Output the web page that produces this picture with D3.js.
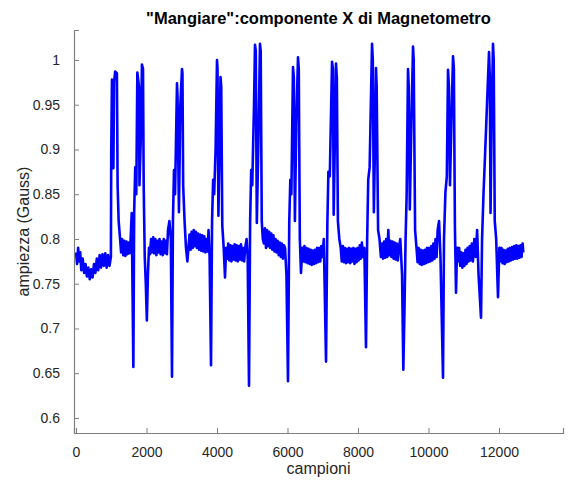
<!DOCTYPE html>
<html>
<head>
<meta charset="utf-8">
<script src="https://cdn.jsdelivr.net/npm/d3@7"></script>
<style>
  body { margin: 0; background: #fff; }
  text { font-family: "Liberation Sans", Arial, sans-serif; }
</style>
</head>
<body>
<div id="chart"></div>
<script>
// Data (sample index, amplitude in Gauss)
var campioni = [
  0, 30, 60, 90, 120, 150, 190, 230, 270, 310, 350, 390, 430, 470, 510, 550, 590, 630, 670, 710, 750, 790, 830, 870, 910, 950, 990,
  1000, 1020, 1040, 1060, 1080, 1110, 1140, 1160, 1180, 1210, 1250,
  1280, 1310, 1340, 1370, 1400, 1430, 1460, 1490, 1520, 1550, 1580,
  1627, 1650, 1680, 1710, 1740, 1787, 1800, 1844, 1870, 1901, 1920, 1950, 1980, 2010, 2040, 2070,
  2100, 2130, 2160, 2190, 2220, 2250, 2280, 2310, 2340, 2370, 2400, 2430, 2460, 2490, 2520, 2550, 2580, 2610, 2650, 2690,
  2723, 2750, 2780, 2810, 2865, 2880, 2920, 2960, 3007, 3020, 3040, 3080, 3120, 3160,
  3190, 3220, 3250, 3280, 3310, 3340, 3370, 3400, 3430, 3460, 3490, 3520, 3550, 3580, 3610, 3640, 3670, 3700, 3730, 3760, 3790,
  3830, 3860, 3890, 3920, 3960, 4000, 4015, 4040, 4070, 4100, 4120, 4150, 4190, 4227, 4260,
  4290, 4320, 4350, 4380, 4410, 4440, 4470, 4500, 4530, 4560, 4590, 4620, 4650, 4680, 4710, 4740, 4770, 4800, 4840, 4870,
  4908, 4940, 4970, 5000, 5050, 5078, 5100, 5130, 5170, 5220, 5240, 5270, 5300,
  5330, 5360, 5390, 5420, 5450, 5480, 5510, 5540, 5570, 5600, 5630, 5660, 5690, 5720, 5750, 5780, 5810, 5840, 5870, 5900, 5930, 5970,
  6014, 6050, 6080, 6110, 6156, 6180, 6210, 6250, 6298, 6320, 6350, 6383, 6420,
  6450, 6480, 6510, 6540, 6570, 6600, 6630, 6660, 6690, 6720, 6750, 6780, 6810, 6840, 6870, 6900, 6930, 6960, 6990, 7030,
  7093, 7130, 7160, 7200, 7263, 7290, 7310, 7340, 7376, 7400, 7430, 7470, 7510,
  7540, 7570, 7600, 7630, 7660, 7690, 7720, 7750, 7780, 7810, 7840, 7870, 7900, 7930, 7960, 7990, 8020, 8050, 8080, 8110, 8140, 8180,
  8227, 8260, 8290, 8330, 8398, 8420, 8450, 8480, 8511, 8530, 8570, 8610, 8650,
  8680, 8710, 8740, 8770, 8800, 8830, 8860, 8890, 8920, 8950, 8980, 9010, 9040, 9070, 9100, 9130, 9160, 9200, 9250,
  9286, 9320, 9350, 9380, 9419, 9440, 9470, 9510, 9561, 9580, 9620, 9660,
  9690, 9720, 9750, 9780, 9810, 9840, 9870, 9900, 9930, 9960, 9990, 10020, 10050, 10080, 10110, 10140, 10170, 10200, 10230, 10260, 10300, 10340,
  10412, 10440, 10480, 10520, 10554, 10580, 10610, 10650, 10696, 10720, 10750, 10781, 10810,
  10840, 10870, 10900, 10930, 10960, 10990, 11020, 11050, 11080, 11110, 11140, 11170, 11200, 11230, 11260, 11300, 11340, 11380, 11420,
  11490, 11520, 11560, 11603, 11640, 11717, 11740, 11760, 11790, 11830, 11850, 11880, 11920, 11972, 12010,
  12040, 12070, 12100, 12130, 12160, 12190, 12220, 12250, 12280, 12310, 12340, 12370, 12400, 12430, 12460, 12490, 12520, 12550, 12580, 12610, 12640, 12670, 12690
];

var ampiezza = [
  0.785, 0.772, 0.79, 0.775, 0.785, 0.765, 0.778, 0.762, 0.772, 0.758, 0.768, 0.755, 0.766, 0.757, 0.772, 0.762, 0.778, 0.765, 0.782, 0.768, 0.783, 0.77, 0.784, 0.768, 0.782, 0.77, 0.78,
  0.90, 0.978, 0.975, 0.879, 0.975, 0.987, 0.986, 0.985, 0.86, 0.82, 0.80,
  0.785, 0.80, 0.782, 0.798, 0.781, 0.797, 0.783, 0.796, 0.784, 0.80, 0.829,
  0.657, 0.83, 0.88, 0.85, 0.986, 0.97, 0.86, 0.92, 0.995, 0.99, 0.86, 0.78, 0.75, 0.709, 0.76, 0.79,
  0.783, 0.80, 0.785, 0.802, 0.784, 0.80, 0.782, 0.798, 0.785, 0.80, 0.783, 0.797, 0.782, 0.80, 0.784, 0.798, 0.783, 0.81, 0.82, 0.80,
  0.646, 0.82, 0.877, 0.85, 0.974, 0.96, 0.83, 0.95, 0.99, 0.985, 0.86, 0.82, 0.79, 0.775,
  0.79, 0.805, 0.788, 0.808, 0.79, 0.81, 0.792, 0.808, 0.79, 0.806, 0.788, 0.805, 0.787, 0.804, 0.786, 0.803, 0.785, 0.80, 0.786, 0.81, 0.78,
  0.659, 0.82, 0.866, 0.85, 0.90, 1.0, 0.99, 0.826, 0.90, 0.981, 0.97, 0.815, 0.79, 0.757, 0.79,
  0.778, 0.795, 0.776, 0.793, 0.775, 0.792, 0.777, 0.794, 0.776, 0.793, 0.775, 0.792, 0.777, 0.794, 0.776, 0.79, 0.775, 0.79, 0.80, 0.78,
  0.636, 0.82, 0.877, 0.86, 0.95, 1.017, 1.01, 0.818, 0.90, 1.018, 1.01, 0.82, 0.80,
  0.795, 0.812, 0.79, 0.81, 0.792, 0.808, 0.79, 0.806, 0.788, 0.804, 0.786, 0.80, 0.785, 0.798, 0.782, 0.796, 0.78, 0.795, 0.778, 0.793, 0.79, 0.76,
  0.641, 0.82, 0.866, 0.85, 0.992, 0.98, 0.82, 0.93, 1.003, 0.99, 0.80, 0.762, 0.79,
  0.775, 0.792, 0.774, 0.79, 0.773, 0.789, 0.772, 0.788, 0.771, 0.787, 0.772, 0.788, 0.773, 0.79, 0.774, 0.79, 0.775, 0.792, 0.78, 0.80,
  0.663, 0.815, 0.875, 0.87, 0.998, 0.99, 0.827, 0.90, 0.996, 0.98, 0.82, 0.80, 0.79,
  0.775, 0.792, 0.774, 0.79, 0.773, 0.789, 0.774, 0.79, 0.773, 0.789, 0.775, 0.79, 0.772, 0.789, 0.774, 0.79, 0.776, 0.793, 0.778, 0.796, 0.78, 0.79,
  0.679, 0.80, 0.866, 0.88, 1.018, 1.0, 0.83, 0.90, 0.991, 0.97, 0.81, 0.80, 0.78,
  0.795, 0.778, 0.797, 0.779, 0.80, 0.78, 0.81, 0.782, 0.798, 0.78, 0.797, 0.778, 0.796, 0.777, 0.795, 0.776, 0.79, 0.80, 0.76,
  0.654, 0.724, 0.80, 0.849, 0.99, 0.97, 0.833, 0.92, 1.015, 1.0, 0.81, 0.79,
  0.774, 0.79, 0.772, 0.788, 0.771, 0.787, 0.772, 0.788, 0.773, 0.79, 0.774, 0.79, 0.775, 0.792, 0.776, 0.795, 0.778, 0.80, 0.78, 0.81, 0.82, 0.78,
  0.645, 0.80, 0.852, 0.87, 0.989, 0.97, 0.86, 0.93, 1.004, 0.99, 0.813, 0.74, 0.79,
  0.775, 0.79, 0.77, 0.785, 0.768, 0.784, 0.77, 0.788, 0.772, 0.79, 0.775, 0.792, 0.776, 0.795, 0.775, 0.80, 0.78, 0.81, 0.76,
  0.712, 0.80, 0.85, 0.892, 0.93, 1.009, 0.98, 0.829, 0.93, 1.018, 1.0, 0.82, 0.80, 0.735, 0.79,
  0.775, 0.79, 0.773, 0.788, 0.772, 0.787, 0.774, 0.789, 0.775, 0.79, 0.776, 0.791, 0.777, 0.792, 0.778, 0.793, 0.778, 0.792, 0.779, 0.793, 0.78, 0.795, 0.785
];

var xTicks = [0, 2000, 4000, 6000, 8000, 10000, 12000];
var yTicks = [0.6, 0.65, 0.7, 0.75, 0.8, 0.85, 0.9, 0.95, 1];

var width = 576,
    height = 484;
var margin = { top: 30, right: 13, bottom: 51, left: 74 };
var w = width - margin.left - margin.right,
    h = height - margin.top - margin.bottom;

var svg = d3.select("#chart")
  .append("svg")
    .attr("width", width)
    .attr("height", height);

var g = svg.append("g")
    .attr("transform", "translate(" + margin.left + "," + margin.top + ")");

var x = d3.scaleLinear().domain([-57, 13816]).range([0, w]);
var y = d3.scaleLinear().domain([0.5832, 1.0335]).range([h, 0]);

// Line
var points = campioni.map(function(d, i) { return [d, ampiezza[i]]; });
var line = d3.line()
  .x(function(d) { return x(d[0]); })
  .y(function(d) { return y(d[1]); });

g.append("path")
  .datum(points)
  .attr("d", line)
  .attr("fill", "none")
  .attr("stroke", "#0000ff")
  .attr("stroke-width", 2.6)
  .attr("stroke-linejoin", "round");

// Axes (ticks pointing inward, MATLAB style)
var xAxis = g.append("g")
  .attr("transform", "translate(0," + h + ")")
  .call(d3.axisBottom(x).tickValues(xTicks).tickSize(-5).tickPadding(14).tickFormat(d3.format("d")));

var yAxis = g.append("g")
  .call(d3.axisLeft(y).tickValues(yTicks).tickSize(-5).tickPadding(14).tickFormat(function(d) { return d3.format("")(+d.toFixed(2)); }));

[xAxis, yAxis].forEach(function(a) {
  a.select(".domain").attr("stroke", "#808080").attr("stroke-width", 1.2);
  a.selectAll(".tick line").attr("stroke", "#808080");
  a.selectAll(".tick text")
    .attr("fill", "#262626")
    .style("font-size", "14px")
    .style("font-family", "'Liberation Sans', Arial, sans-serif");
});

// Title and labels
svg.append("text")
  .attr("x", margin.left + w / 2)
  .attr("y", 24)
  .attr("text-anchor", "middle")
  .style("font-size", "16.5px")
  .style("font-weight", "bold")
  .attr("fill", "#000")
  .text("\"Mangiare\":componente X di Magnetometro");

svg.append("text")
  .attr("x", margin.left + w / 2)
  .attr("y", 474)
  .attr("text-anchor", "middle")
  .style("font-size", "16px")
  .attr("fill", "#262626")
  .text("campioni");

svg.append("text")
  .attr("transform", "translate(29," + (margin.top + h / 2) + ") rotate(-90)")
  .attr("text-anchor", "middle")
  .style("font-size", "16px")
  .attr("fill", "#262626")
  .text("ampiezza (Gauss)");
</script>
</body>
</html>
